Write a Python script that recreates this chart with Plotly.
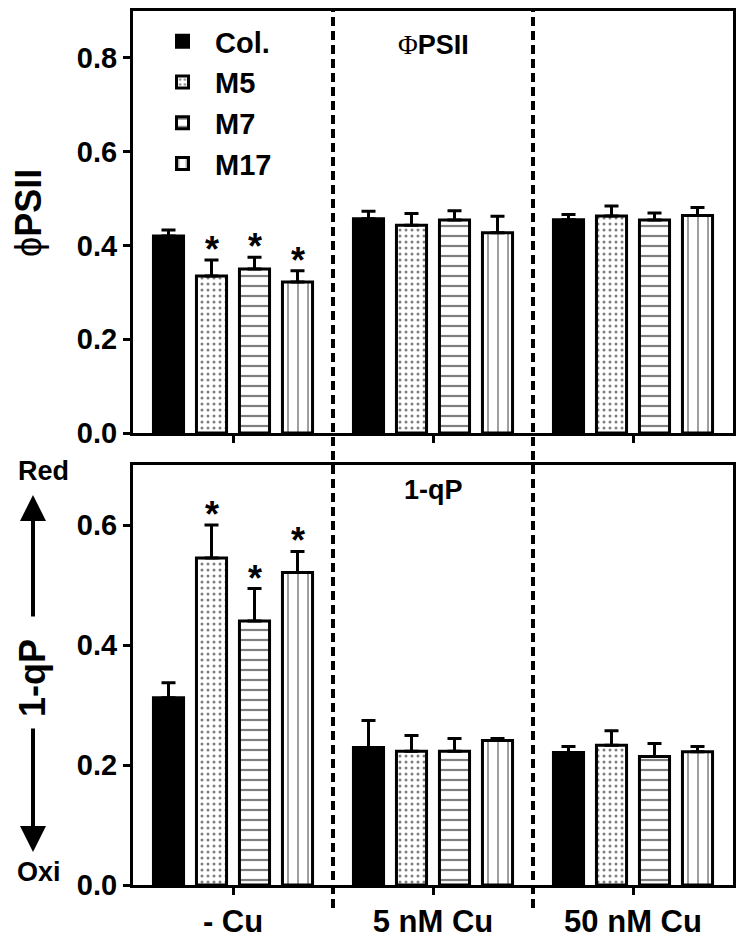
import plotly.graph_objects as go

groups = ["- Cu", "5 nM Cu", "50 nM Cu"]
series = ["Col.", "M5", "M7", "M17"]

phi_vals = {
    "Col.": [0.420, 0.457, 0.455],
    "M5":   [0.335, 0.443, 0.463],
    "M7":   [0.350, 0.454, 0.454],
    "M17":  [0.322, 0.427, 0.464],
}
phi_err = {
    "Col.": [0.013, 0.016, 0.011],
    "M5":   [0.034, 0.025, 0.021],
    "M7":   [0.025, 0.020, 0.015],
    "M17":  [0.024, 0.035, 0.017],
}
qp_vals = {
    "Col.": [0.312, 0.229, 0.221],
    "M5":   [0.545, 0.223, 0.233],
    "M7":   [0.440, 0.223, 0.214],
    "M17":  [0.521, 0.241, 0.222],
}
qp_err = {
    "Col.": [0.025, 0.045, 0.010],
    "M5":   [0.055, 0.026, 0.024],
    "M7":   [0.054, 0.021, 0.022],
    "M17":  [0.035, 0.003, 0.009],
}
phi_sig = {"Col.": [0, 0, 0], "M5": [1, 0, 0], "M7": [1, 0, 0], "M17": [1, 0, 0]}
qp_sig = {"Col.": [0, 0, 0], "M5": [1, 0, 0], "M7": [1, 0, 0], "M17": [1, 0, 0]}

phi_ticks = [0.0, 0.2, 0.4, 0.6, 0.8]
qp_ticks = [0.0, 0.2, 0.4, 0.6]

styles = {
    "Col.": dict(color="black", pattern=dict(shape="")),
    "M5": dict(color="white", pattern=dict(shape=".", fgcolor="black", bgcolor="white", size=6, solidity=0.2)),
    "M7": dict(color="white", pattern=dict(shape="-", fgcolor="black", bgcolor="white", size=10, solidity=0.22)),
    "M17": dict(color="white", pattern=dict(shape="|", fgcolor="black", bgcolor="white", size=10, solidity=0.15)),
}

FONT = "Arial, Liberation Sans, sans-serif"
BARGAP = 0.14
xpos = list(range(len(groups)))

fig = go.Figure()
for i, s in enumerate(series):
    st = styles[s]
    for vals, errs, ya, show in ((phi_vals, phi_err, "y", True), (qp_vals, qp_err, "y2", False)):
        fig.add_trace(go.Bar(
            x=xpos, y=vals[s], name=s, legendgroup=s, showlegend=show,
            xaxis="x" if ya == "y" else "x2", yaxis=ya,
            marker=dict(color=st["color"], line=dict(color="black", width=3), pattern=st["pattern"]),
            error_y=dict(type="data", array=errs[s], arrayminus=[0] * len(groups), symmetric=False,
                         color="black", thickness=3, width=7),
        ))

# significance stars
slot = (1 - BARGAP) / len(series)
ann = []
STAR = dict(size=36, family=FONT, color="black")
for i, s in enumerate(series):
    off = -(1 - BARGAP) / 2 + slot * (i + 0.5)
    for g in range(len(groups)):
        if phi_sig[s][g]:
            ann.append(dict(x=g + off, y=phi_vals[s][g] + phi_err[s][g], xref="x", yref="y", text="<b>*</b>",
                            showarrow=False, xanchor="center", yanchor="bottom", font=STAR, yshift=-12))
        if qp_sig[s][g]:
            ann.append(dict(x=g + off, y=qp_vals[s][g] + qp_err[s][g], xref="x2", yref="y2", text="<b>*</b>",
                            showarrow=False, xanchor="center", yanchor="bottom", font=STAR, yshift=-12))

# page offset of the plot div (body margin) is compensated in margins
OFF = 8
W, H = 745, 939
L, R, T, B = 133 - OFF, 12 + OFF, 11 - OFF, 54 + OFF
ph = H - T - B
pw = W - L - R
def py(p):  # page pixel -> paper y
    return (H - B - (p - OFF)) / ph
def px(p):  # page pixel -> paper x
    return ((p - OFF) - L) / pw

C = dict(xref="paper", yref="paper", showarrow=False, xanchor="center", yanchor="middle")
ann += [
    dict(x=0.5, y=py(45), text="<span style='font-family:Liberation Serif'>Φ</span><b>PSII</b>",
         font=dict(size=27, family=FONT, color="black"), **C),
    dict(x=0.5, y=py(490), text="<b>1-qP</b>", font=dict(size=27, family=FONT, color="black"), **C),
    dict(x=px(28), y=py(213), textangle=-90, text="ϕ<b>PSII</b>",
         font=dict(size=36, family=FONT, color="black"), **C),
    dict(x=px(32), y=py(678), textangle=-90, text="<b>1-qP</b>",
         font=dict(size=36, family=FONT, color="black"), **C),
    dict(x=px(43), y=py(471), text="<b>Red</b>", font=dict(size=27, family=FONT, color="black"), **C),
    dict(x=px(39), y=py(872), text="<b>Oxi</b>", font=dict(size=27, family=FONT, color="black"), **C),
    dict(x=px(33), y=py(495), xref="paper", yref="paper", text="", showarrow=True,
         ax=0, ay=123, arrowhead=2, arrowsize=1.3, arrowwidth=4, arrowcolor="black"),
    dict(x=px(33), y=py(852), xref="paper", yref="paper", text="", showarrow=True,
         ax=0, ay=-125, arrowhead=2, arrowsize=1.3, arrowwidth=4, arrowcolor="black"),
]

shapes = []
for xv in (0.5, 1.5):
    shapes.append(dict(type="line", xref="x", yref="paper", x0=xv, x1=xv, y0=py(908), y1=1.0,
                       line=dict(color="black", width=4, dash="9px,5px")))

axis_common = dict(showline=True, linecolor="black", linewidth=3, mirror=True, ticks="outside",
                   tickwidth=3, ticklen=7, tickcolor="black", showgrid=False, zeroline=False,
                   automargin=False,
                   tickfont=dict(size=29, family=FONT, color="black", weight="bold"))
xfont = dict(size=31, family=FONT, color="black", weight="bold")

fig.update_layout(
    width=W, height=H, margin=dict(l=L, r=R, t=T, b=B, autoexpand=False),
    paper_bgcolor="white", plot_bgcolor="white",
    barmode="group", bargap=BARGAP, bargroupgap=0.3,
    font=dict(family=FONT, color="black"),
    xaxis=dict(domain=[0, 1], anchor="y", range=[-0.5, 2.5], tickvals=xpos, ticktext=groups,
               showticklabels=False, **axis_common),
    yaxis=dict(domain=[py(433), 1.0], anchor="x", range=[0, 0.9], tickvals=phi_ticks,
               tickformat=".1f", **axis_common),
    xaxis2=dict(domain=[0, 1], anchor="y2", range=[-0.5, 2.5], tickvals=xpos, ticktext=groups,
                **{**axis_common, "tickfont": xfont}),
    yaxis2=dict(domain=[0, py(465)], anchor="x2", range=[0, 0.7], tickvals=qp_ticks,
                tickformat=".1f", **axis_common),
    legend=dict(x=px(150), y=py(16), xanchor="left", yanchor="top", bgcolor="rgba(0,0,0,0)",
                font=dict(size=29, family=FONT, color="black", weight="bold"), itemwidth=55,
                tracegroupgap=0),
    annotations=ann, shapes=shapes,
)

fig.write_html("out.html")
